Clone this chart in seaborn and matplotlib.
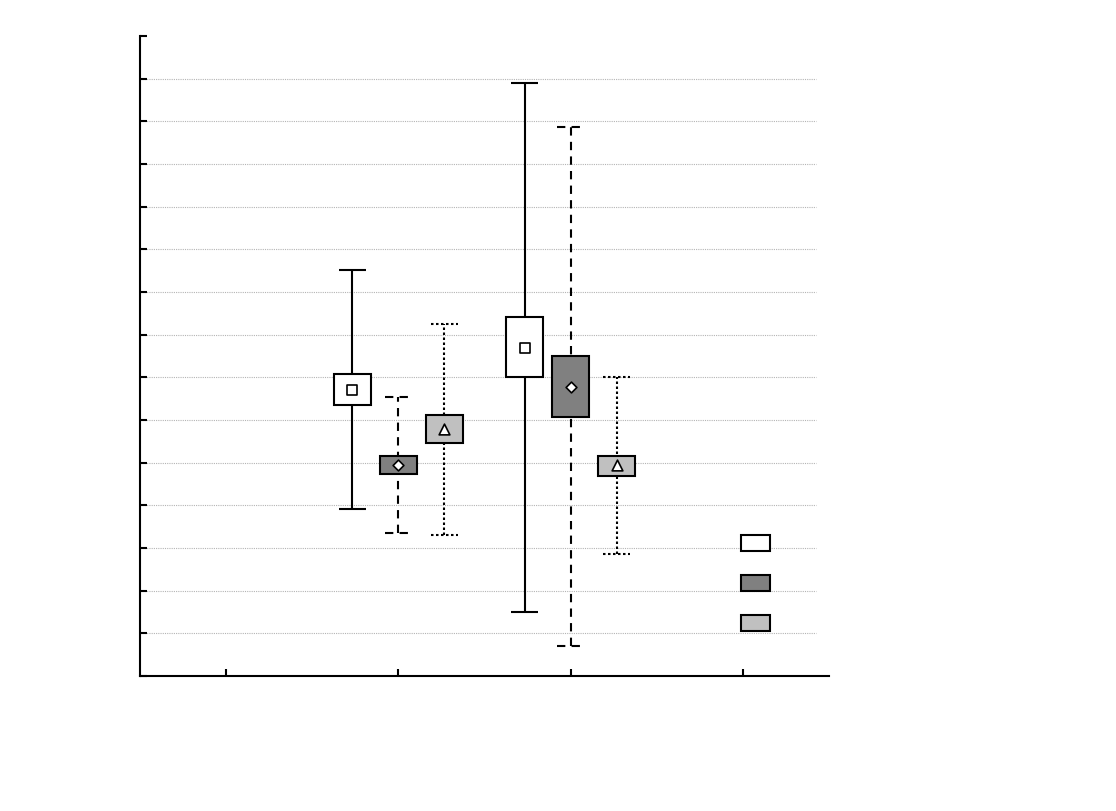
import numpy as np
import pandas as pd
import matplotlib
matplotlib.use("Agg")
import matplotlib.pyplot as plt
from matplotlib.patches import Patch
import seaborn as sns

sns.set_theme(style="white")
plt.rcParams["font.family"] = ["DejaVu Sans"]

# ---- data ----
groups = [1, 2, 3, 4]
tick_labels = ["", "", "", ""]
series = ["A", "B", "C"]
nan = np.nan
mean_A = [nan, 6.70, 7.69, nan]
mean_B = [nan, 4.95, 6.77, nan]
mean_C = [nan, 5.79, 4.95, nan]
box_lo_A = [nan, 6.35, 7.01, nan]
box_hi_A = [nan, 7.08, 8.41, nan]
box_lo_B = [nan, 4.73, 6.07, nan]
box_hi_B = [nan, 5.16, 7.50, nan]
box_lo_C = [nan, 5.46, 4.69, nan]
box_hi_C = [nan, 6.12, 5.16, nan]
wh_lo_A = [nan, 3.91, 1.50, nan]
wh_hi_A = [nan, 9.52, 13.90, nan]
wh_lo_B = [nan, 3.35, 0.70, nan]
wh_hi_B = [nan, 6.54, 12.87, nan]
wh_lo_C = [nan, 3.30, 2.86, nan]
wh_hi_C = [nan, 8.25, 7.01, nan]

rows = []
for s, m, bl, bh, wl, wh in [
    ("A", mean_A, box_lo_A, box_hi_A, wh_lo_A, wh_hi_A),
    ("B", mean_B, box_lo_B, box_hi_B, wh_lo_B, wh_hi_B),
    ("C", mean_C, box_lo_C, box_hi_C, wh_lo_C, wh_hi_C),
]:
    for g, a, b, c, d, e in zip(groups, m, bl, bh, wl, wh):
        rows.append(dict(series=s, group=g, mean=a, blo=b, bhi=c, wlo=d, whi=e))
df = pd.DataFrame(rows).dropna()

# ---- styles ----
offsets = {"A": -0.267, "B": 0.0, "C": 0.267}
fills = {"A": "white", "B": "#808080", "C": "#c0c0c0"}
lstyles = {"A": "-", "B": (0, (4, 3)), "C": (0, (1.2, 1.2))}
markers = {"A": "s", "B": "D", "C": "^"}
msizes = {"A": 55, "B": 30, "C": 60}
box_w = 0.215
cap_w = 0.16

fig = plt.figure(figsize=(11.16, 8.12), dpi=100)
ax = fig.add_axes([0.1254, 0.1663, 0.6174, 0.7882])

for y in range(1, 15):
    ax.axhline(y, xmin=0, xmax=0.981, color="#b4b4b4", lw=0.8,
               linestyle=(0, (1, 1)), zorder=0)

for s in series:
    d = df[df.series == s].copy()
    d["x"] = d["group"] + offsets[s]
    ax.vlines(d["x"], d["wlo"], d["whi"], colors="black", lw=1.5,
              linestyles=[lstyles[s]], zorder=2)
    for col in ["wlo", "whi"]:
        ax.hlines(d[col], d["x"] - cap_w / 2, d["x"] + cap_w / 2,
                  colors="black", lw=1.5, linestyles=[lstyles[s]], zorder=2)
    ax.bar(d["x"], d["bhi"] - d["blo"], bottom=d["blo"], width=box_w,
           color=fills[s], edgecolor="black", linewidth=1.5, zorder=3)
    sns.scatterplot(data=d, x="x", y="mean", marker=markers[s], s=msizes[s],
                    color="white", edgecolor="black", linewidth=1.2,
                    zorder=4, ax=ax, legend=False)

ax.set_xlim(0.5, 4.5)
ax.set_ylim(0, 15)
ax.set_xticks(groups)
ax.set_xticklabels(tick_labels)
ax.set_yticks(range(0, 16))
ax.set_yticklabels([""] * 16)
ax.set_xlabel("")
ax.set_ylabel("")
ax.tick_params(direction="in", length=5, width=1.5, color="black",
               left=True, bottom=True)
for sp in ["top", "right"]:
    ax.spines[sp].set_visible(False)
for sp in ["left", "bottom"]:
    ax.spines[sp].set_color("black")
    ax.spines[sp].set_linewidth(1.5)

handles = [Patch(facecolor=fills[s], edgecolor="black", linewidth=1.5) for s in series]
ax.legend(handles, ["", "", ""], loc="upper left", bbox_to_anchor=(0.872, 0.2195),
          frameon=False, borderpad=0, borderaxespad=0, handlelength=2.1,
          handleheight=1.35, labelspacing=1.75, handletextpad=0, fontsize=10)

fig.savefig("out.png", dpi=100, facecolor="white")
